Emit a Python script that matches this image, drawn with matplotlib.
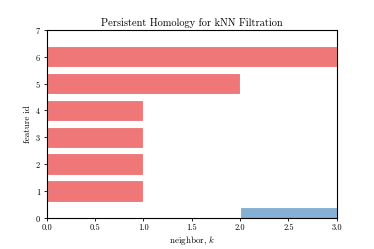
import matplotlib
matplotlib.use("Agg")
import matplotlib.pyplot as plt

plt.rcParams['font.family'] = ['cmr10', 'DejaVu Serif']
plt.rcParams['mathtext.fontset'] = 'cm'
plt.rcParams['axes.formatter.use_mathtext'] = True
plt.rcParams['axes.unicode_minus'] = False

# H0 features (red): id, birth, death
h0_ids = [1, 2, 3, 4, 5, 6]
h0_birth = [0, 0, 0, 0, 0, 0]
h0_death = [1, 1, 1, 1, 2, 3]
# H1 features (blue)
h1_ids = [0]
h1_birth = [2]
h1_death = [3]

fig = plt.figure(figsize=(3.74, 2.49), dpi=100)
ax = fig.add_axes([0.125, 0.125, 0.775, 0.755])

ax.barh(h0_ids, [d - b for b, d in zip(h0_birth, h0_death)], left=h0_birth,
        height=0.8, color='#F07777', edgecolor='white', linewidth=0.8)
ax.barh(h1_ids, [d - b for b, d in zip(h1_birth, h1_death)], left=h1_birth,
        height=0.8, color='#85B0D3', edgecolor='white', linewidth=0.8)

ax.set_xlim(0, 3)
ax.set_ylim(0, 7)
ax.set_xticks([0, 0.5, 1.0, 1.5, 2.0, 2.5, 3.0])
ax.set_xticklabels(['0.0', '0.5', '1.0', '1.5', '2.0', '2.5', '3.0'])
ax.set_yticks(range(8))
ax.tick_params(labelsize=6, length=2.5, width=0.6, pad=1.5)
for s in ax.spines.values():
    s.set_linewidth(0.8)
ax.set_title('Persistent Homology for kNN Filtration', fontsize=7.5, pad=3)
ax.set_xlabel('neighbor, $k$', fontsize=6.5, labelpad=1.5)
ax.set_ylabel('feature id', fontsize=6.5, labelpad=2)

fig.savefig('out.png', dpi=100)
